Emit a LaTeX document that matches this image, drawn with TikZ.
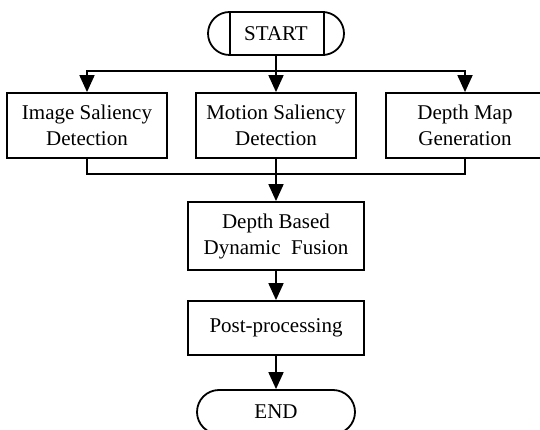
\documentclass[tikz,border=0pt]{standalone}
\usepackage{fontspec}
\setmainfont{Liberation Serif}
\usetikzlibrary{arrows.meta}
\begin{document}
\begin{tikzpicture}[x=1pt,y=-1pt,
  line width=1.8pt,
  box/.style={draw, rectangle, align=center, inner sep=0pt,
    font=\fontsize{21}{26}\selectfont},
  term/.style={draw, rectangle, rounded corners=21.5pt, inner sep=0pt,
    font=\fontsize{21}{26}\selectfont},
  arr/.style={-{Triangle[width=15pt,length=17pt]}}]
\useasboundingbox (0,0) rectangle (540,430);
\clip (0,0) rectangle (540,430);
\fill[white] (0,0) rectangle (540,430);
% nodes
\node[term, minimum width=136pt, minimum height=43pt] (start) at (276,33.5) {START};
\node[box, minimum width=160pt, minimum height=65pt] (img) at (87,125.5) {Image Saliency\\Detection};
\node[box, minimum width=160pt, minimum height=65pt] (mot) at (276,125.5) {Motion Saliency\\Detection};
\node[box, minimum width=158pt, minimum height=65pt] (dep) at (465,125.5) {Depth Map\\Generation};
\node[box, minimum width=176pt, minimum height=68pt] (fus) at (276,236) {Depth Based\\Dynamic\ \ Fusion};
\node[box, minimum width=176pt, minimum height=54pt] (post) at (276,328) {Post-processing};
\node[term, rounded corners=22pt, minimum width=158pt, minimum height=44pt] (end) at (276,412) {END};
% inner bars of START
\draw ([xshift=23pt]start.north west) -- ([xshift=23pt]start.south west);
\draw ([xshift=-21pt]start.north east) -- ([xshift=-21pt]start.south east);
% split
\coordinate (sp) at (276,71);
\draw (start.south) -- (sp);
\draw[arr] (sp) -| (img.north);
\draw[arr] (sp) -| (dep.north);
\draw[arr] (sp) -- (mot.north);
% merge
\coordinate (mg) at (276,174);
\draw (img.south) |- (mg);
\draw (dep.south) |- (mg);
\draw (mot.south) -- (mg);
\draw[arr] (mg) -- (fus.north);
\draw[arr] (fus.south) -- (post.north);
\draw[arr] (post.south) -- (end.north);
\end{tikzpicture}
\end{document}
